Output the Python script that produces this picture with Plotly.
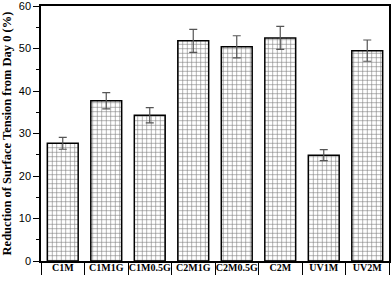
import plotly.graph_objects as go

categories = ["C1M", "C1M1G", "C1M0.5G", "C2M1G", "C2M0.5G", "C2M", "UV1M", "UV2M"]
values = [27.7, 37.7, 34.3, 51.8, 50.4, 52.5, 24.9, 49.5]
errors = [1.4, 1.9, 1.8, 2.7, 2.6, 2.7, 1.3, 2.5]
y_ticks = [0, 10, 20, 30, 40, 50, 60]

fig = go.Figure()
fig.add_trace(go.Bar(
    x=categories, y=values,
    width=0.71,
    marker=dict(
        color="white",
        line=dict(color="black", width=1.5),
        pattern=dict(shape="+", size=4.5, solidity=0.25, fgcolor="black", bgcolor="white"),
    ),
    error_y=dict(type="data", array=errors, visible=True, color="#555555", thickness=1.2, width=4),
))

fig.update_layout(
    width=392, height=281,
    margin=dict(l=41, r=3, t=6, b=20, autoexpand=False),
    paper_bgcolor="white", plot_bgcolor="white",
    showlegend=False,
    bargap=0.29,
)
fig.update_xaxes(
    automargin=False,
    showline=True, linecolor="black", linewidth=1.5, mirror=True,
    ticks="outside", tickson="boundaries", ticklen=12, tickwidth=1.3, tickcolor="black",
    tickangle=0,
    ticklabelstandoff=-4,
    tickfont=dict(family="Liberation Serif", size=10, color="black", weight="bold"),
    showgrid=False,
)
fig.update_yaxes(
    automargin=False,
    range=[0, 60], tickvals=y_ticks,
    ticklabeloverflow="allow",
    showline=True, linecolor="black", linewidth=1.5, mirror=True,
    ticks="outside", ticklen=6, tickwidth=1.2, tickcolor="black",
    minor=dict(dtick=5, ticks="outside", ticklen=3, tickcolor="black", tickwidth=1),
    tickfont=dict(family="Liberation Sans", size=11, color="black"),
    showgrid=False,
    title=dict(text="Reduction of Surface Tension from Day 0 (%)",
               font=dict(family="Liberation Serif", size=12.5, color="black", weight="bold"),
               standoff=6),
)

fig.write_html("out.html", config={"displayModeBar": False},
               post_script="document.body.style.margin='0';")
